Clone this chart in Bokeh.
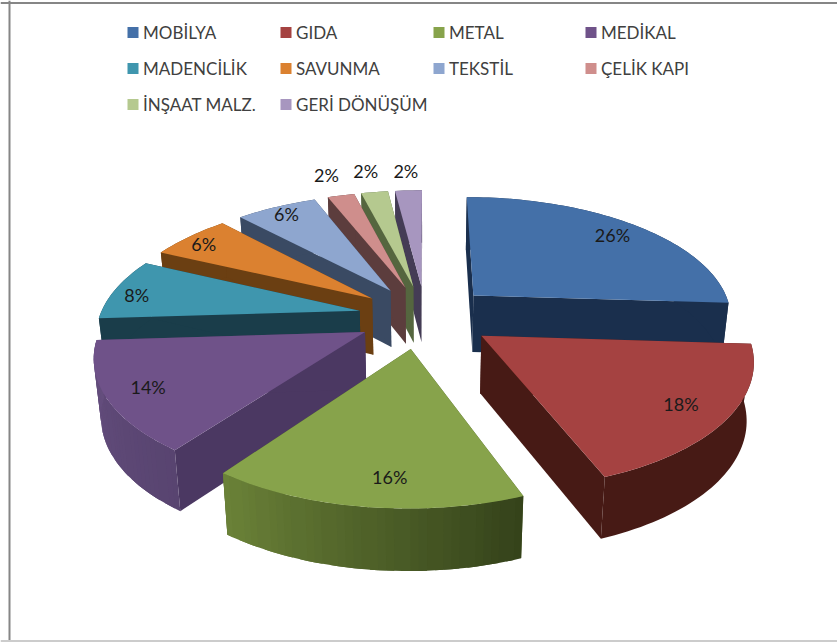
import math
from bokeh.plotting import figure
from bokeh.models import ColumnDataSource
from bokeh.core.properties import value
from bokeh.embed import file_html
from bokeh.resources import INLINE

categories = ["MOBİLYA", "GIDA", "METAL", "MEDİKAL", "MADENCİLİK", "SAVUNMA", "TEKSTİL", "ÇELİK KAPI", "İNŞAAT MALZ.", "GERİ DÖNÜŞÜM"]
values = [26, 18.2, 15.8, 14, 8, 6, 6, 2, 2, 2]
labels = ["26%", "18%", "16%", "14%", "8%", "6%", "6%", "2%", "2%", "2%"]

top_colors = ["#4470a8", "#a54241", "#87a34b", "#6f5289", "#3f96ae", "#db8130", "#8ea6cf", "#cf8e8c", "#b5c98f", "#a796bf"]
wall_colors = ["#1a2f4d", "#471a15", "#4a5c28", "#4b3862", "#1a3d4a", "#6b3f12", "#3a4a63", "#5c3d3d", "#55663f", "#443c55"]
rim_start = ["#1a2f4d", "#471a15", "#34421a", "#584470", "#1a3d4a", "#6b3f12", "#3a4a63", "#5c3d3d", "#55663f", "#443c55"]
rim_end = ["#1a2f4d", "#471a15", "#6b8238", "#654e7e", "#1a3d4a", "#6b3f12", "#3a4a63", "#5c3d3d", "#55663f", "#443c55"]
label_radius = [0.85, 0.83, 0.83, 0.85, 0.90, 0.90, 0.90, 1.27, 1.27, 1.24]
label_turn = [0, 0, -3.5, 0, -2, -1, 0, 0, 0, 0]
explode_nudge = [0, 0, -0.02, 0, 0, 0, 0, 0, 0, 0]

CX, CY, A, B, K, DEPTH, K_DEPTH, CONVERGE, EXPLODE = 425, 316, 260, 121, 0.165, 57, 0.07, 0.022, 0.26
FONT = "Lato"


def proj(X, Y, z=0.0):
    w = 1 + K * Y
    sx = A * X / w * (1 - CONVERGE * z)
    return CX + sx, CY - B * Y / w + z * DEPTH / (1 + K_DEPTH * Y)


def mix(c1, c2, t):
    a = [int(c1[i:i + 2], 16) for i in (1, 3, 5)]
    b = [int(c2[i:i + 2], 16) for i in (1, 3, 5)]
    return "#%02x%02x%02x" % tuple(round(p + (q - p) * t) for p, q in zip(a, b))


total = sum(values)
slices = []
cum = 0
for i, v in enumerate(values):
    a0 = 2 * math.pi * cum / total
    a1 = 2 * math.pi * (cum + v) / total
    cum += v
    mid = (a0 + a1) / 2
    ax, ay = EXPLODE * math.sin(mid) + explode_nudge[i], EXPLODE * math.cos(mid)
    slices.append(dict(i=i, a0=a0, a1=a1, mid=mid, ax=ax, ay=ay))

xs, ys, fills = [], [], []


def add(points, color):
    xs.append([q[0] for q in points])
    ys.append([q[1] for q in points])
    fills.append(color)


for s in sorted(slices, key=lambda q: -math.cos(q["mid"])):
    i = s["i"]
    n = max(6, int((s["a1"] - s["a0"]) * 40))
    angles = [s["a0"] + (s["a1"] - s["a0"]) * j / n for j in range(n + 1)]
    rim = [(s["ax"] + math.sin(t), s["ay"] + math.cos(t)) for t in angles]
    apex = (s["ax"], s["ay"])
    for edge in (rim[0], rim[-1]):
        add([proj(*apex), proj(*edge), proj(*edge, 1), proj(*apex, 1)], wall_colors[i])
    if rim_start[i] == rim_end[i]:
        add([proj(*r) for r in rim] + [proj(*r, 1) for r in reversed(rim)], rim_start[i])
    else:
        bands = 30
        step = n / bands
        for b in range(bands):
            j0 = round(b * step)
            j1 = round((b + 1) * step) + (1 if b < bands - 1 else 0)
            seg = rim[j0:j1 + 1]
            if len(seg) < 2:
                continue
            add([proj(*r) for r in seg] + [proj(*r, 1) for r in reversed(seg)],
                mix(rim_start[i], rim_end[i], (b + 0.5) / bands))
    add([proj(*apex)] + [proj(*r) for r in rim], top_colors[i])

p = figure(width=837, height=642, x_range=(0, 837), y_range=(642, 0), output_backend="svg",
           toolbar_location=None, min_border=0, outline_line_color=None, background_fill_color="white")
p.axis.visible = False
p.grid.visible = False

# chart frame
p.segment([9, 0], [0, 2.5], [9, 837], [642, 2.5], line_color="#868686", line_width=2)
p.segment([0], [640.5], [837], [640.5], line_color="#cccccc", line_width=2)

src = ColumnDataSource(dict(xs=xs, ys=ys, fill=fills))
p.patches("xs", "ys", source=src, fill_color="fill", line_color=None)

lx, ly = [], []
for s, r, turn in zip(slices, label_radius, label_turn):
    t = s["mid"] + math.radians(turn)
    x, y = proj(s["ax"] + r * math.sin(t), s["ay"] + r * math.cos(t))
    lx.append(x)
    ly.append(y)
p.text(lx, ly, text=labels, text_font=value(FONT), text_font_size="18px", text_color="#1a1a1a",
       text_align="center", text_baseline="middle")

col_x = [127, 280, 433, 585]
row_y = [32, 68, 104]
sx, sy, tx = [], [], []
for k in range(len(categories)):
    sx.append(col_x[k % 4] + 5.5)
    sy.append(row_y[k // 4])
    tx.append(col_x[k % 4] + 15.5)
p.rect(sx, sy, width=11, height=11, fill_color=top_colors, line_color=None)
p.text(tx, sy, text=categories, text_font=value(FONT), text_font_size="17px", text_color="#404040",
       text_align="left", text_baseline="middle")

open("out.html", "w").write(file_html(p, INLINE))
